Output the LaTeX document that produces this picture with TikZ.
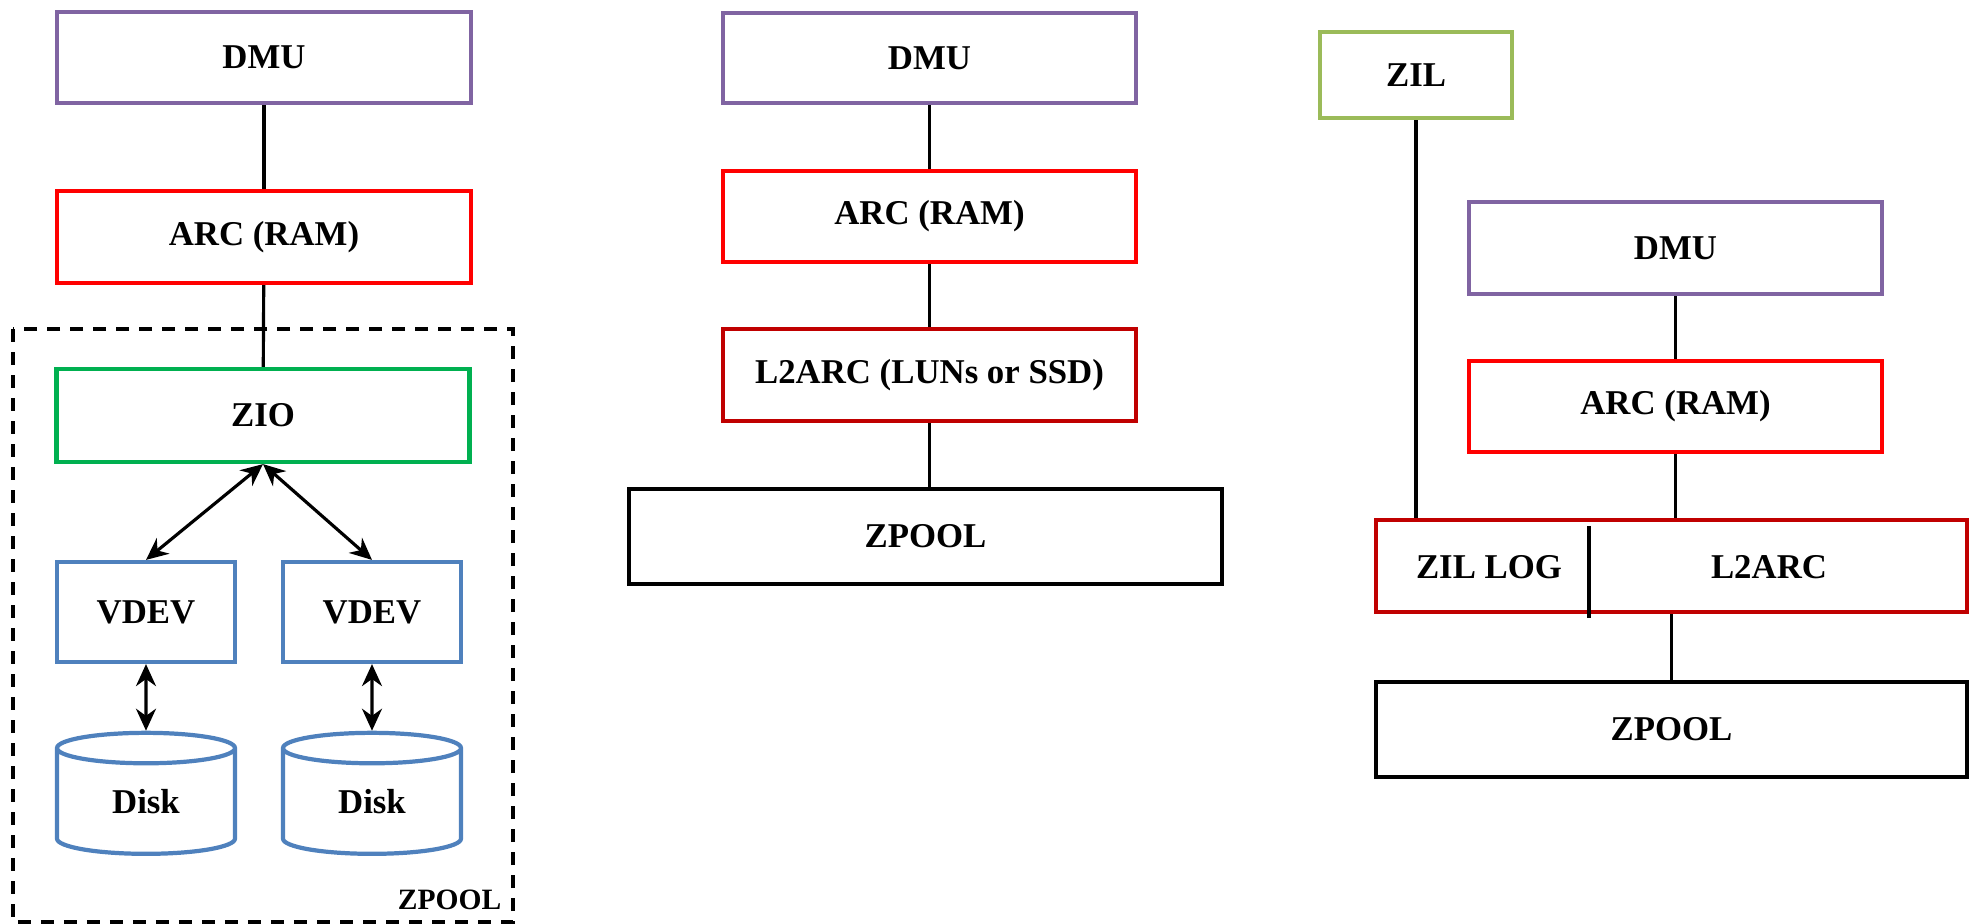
\documentclass[tikz,border=0pt]{standalone}
\usepackage{fontspec}
\setmainfont{Liberation Serif}
\usetikzlibrary{arrows.meta,shapes.geometric}

\definecolor{zpurple}{HTML}{8064A2}
\definecolor{zred}{HTML}{FF0000}
\definecolor{zdark}{HTML}{C00000}
\definecolor{zgreen}{HTML}{00B050}
\definecolor{zlime}{HTML}{9BBB59}
\definecolor{zblue}{HTML}{4F81BD}

\tikzset{
  lbl/.style={font=\bfseries\fontsize{9.9}{12}\selectfont},
  blk/.style={draw, line width=1.2pt, inner sep=0pt, lbl},
  disk/.style={cylinder, shape border rotate=90, aspect=0.45, draw=zblue, line width=1.2pt,
               minimum width=1.78cm, minimum height=1.21cm, inner sep=0pt, lbl},
  link/.style={line width=0.9pt},
  dbl/.style={line width=0.9pt, {Stealth[length=2.2mm,width=2mm]}-{Stealth[length=2.2mm,width=2mm]}},
}

\begin{document}
\begin{tikzpicture}
\useasboundingbox (0,0) rectangle (19.75,9.23);
%\draw[step=0.5cm,gray,very thin] (0,0) grid (19.75,9.23); %background grid

% left stack
\draw[dashed, line width=1.2pt, dash pattern=on 1.3mm off 1mm] (0.13,5.94) rectangle (5.13,0.01);

\node[blk, draw=zpurple, minimum width=4.14cm, minimum height=0.91cm] (dmua) at (2.64,8.655) {DMU};
\node[blk, draw=zred,    minimum width=4.14cm, minimum height=0.92cm] (arca) at (2.64,6.86)  {ARC (RAM)};
\node[blk, draw=zgreen,  minimum width=4.13cm, minimum height=0.93cm] (zio)  at (2.63,5.075) {ZIO};

\node[blk, draw=zblue, minimum width=1.78cm, minimum height=1.0cm] (vdeva) at (1.46,3.11) {VDEV};
\node[blk, draw=zblue, minimum width=1.78cm, minimum height=1.0cm] (vdevb) at (3.72,3.11) {VDEV};

\node[disk] (diska) at (1.46,1.21) {Disk};
\node[disk] (diskb) at (3.72,1.21) {Disk};

\node[lbl, anchor=east, inner sep=0pt, font=\bfseries\fontsize{8.4}{10}\selectfont] (poola) at (5.02,0.23) {ZPOOL};

\draw[link] (dmua) -- (arca);
\draw[link] (arca) -- (zio);
\draw[dbl] (zio.south) -- (vdeva.north);
\draw[dbl] (zio.south) -- (vdevb.north);
\draw[dbl] (vdeva) -- (diska);
\draw[dbl] (vdevb) -- (diskb);

% middle stack
\node[blk, draw=zpurple, minimum width=4.13cm, minimum height=0.90cm] (dmub)  at (9.295,8.65)  {DMU};
\node[blk, draw=zred,    minimum width=4.13cm, minimum height=0.91cm] (arcb)  at (9.295,7.065) {ARC (RAM)};
\node[blk, draw=zdark,   minimum width=4.13cm, minimum height=0.92cm] (ltwob) at (9.295,5.48)  {L2ARC (LUNs or SSD)};
\node[blk, draw=black,   minimum width=5.93cm, minimum height=0.95cm] (poolb) at (9.255,3.865) {ZPOOL};

\draw[link] (dmub) -- (arcb);
\draw[link] (arcb) -- (ltwob);
\draw[link] (ltwob) -- (ltwob |- poolb.north);

% right stack
\node[blk, draw=zlime,   minimum width=1.92cm, minimum height=0.86cm] (zil)   at (14.16,8.48)  {ZIL};
\node[blk, draw=zpurple, minimum width=4.13cm, minimum height=0.92cm] (dmuc)  at (16.755,6.75) {DMU};
\node[blk, draw=zred,    minimum width=4.13cm, minimum height=0.91cm] (arcc)  at (16.755,5.165) {ARC (RAM)};
\node[draw=zdark, line width=1.2pt, minimum width=5.91cm, minimum height=0.92cm, inner sep=0pt] (cache) at (16.715,3.57) {};
\node[blk, draw=black,   minimum width=5.91cm, minimum height=0.95cm] (poolc) at (16.715,1.935) {ZPOOL};

\node[lbl] (zillog) at (14.89,3.56) {ZIL LOG};
\node[lbl] (ltwoc)  at (17.69,3.56) {L2ARC};
\coordinate (split) at (15.89,0);

\draw[link] (zil.south) -- (zil.south |- cache.north);
\draw[link] ([yshift=-0.8mm]split |- cache.north) -- ([yshift=-0.4mm]split |- cache.south);
\draw[link] (dmuc) -- (arcc);
\draw[link] (arcc.south) -- (arcc.south |- cache.north);
\draw[link] (cache.south) -- (poolc.north);

\end{tikzpicture}
\end{document}
